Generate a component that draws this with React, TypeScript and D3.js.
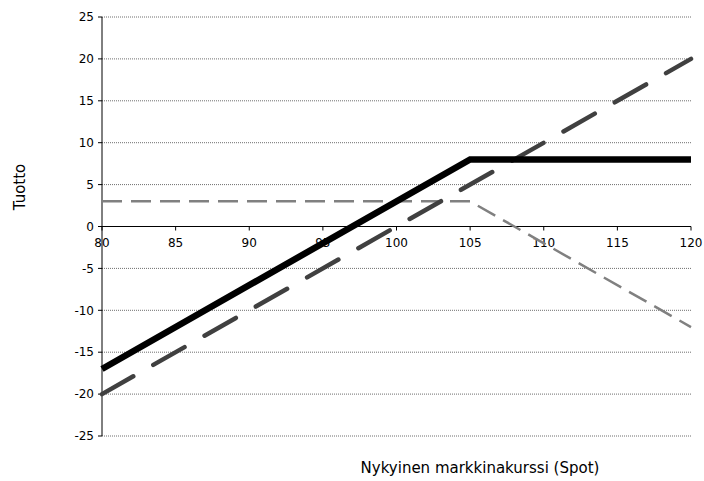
import React from "react";
import * as d3 from "d3";

const spotValues = [80, 105, 120];
const solidSeries = [-17, 8, 8];
const darkDashedSpot = [80, 120];
const darkDashedSeries = [-20, 20];
const lightDashedSeries = [3, 3, -12];
const xTicks = [80, 85, 90, 95, 100, 105, 110, 115, 120];
const yTicks = [25, 20, 15, 10, 5, 0, -5, -10, -15, -20, -25];
const xTitle = "Nykyinen markkinakurssi (Spot)";
const yTitle = "Tuotto";

export default function App() {
  const W = 704, H = 481;
  const x = d3.scaleLinear().domain([80, 120]).range([102, 691]);
  const y = d3.scaleLinear().domain([25, -25]).range([17, 436]);
  const line = d3.line<[number, number]>().x(d => x(d[0])).y(d => y(d[1]));
  const solid = line(spotValues.map((s, i) => [s, solidSeries[i]]));
  const dark = line(darkDashedSpot.map((s, i) => [s, darkDashedSeries[i]]));
  const light = line(spotValues.map((s, i) => [s, lightDashedSeries[i]]));
  const font = "Tahoma, 'DejaVu Sans', Verdana, sans-serif";
  return (
    <svg width={W} height={H} style={{ position: "absolute", left: 0, top: 0 }} fontFamily={font}>
      {yTicks.filter(t => t !== 0).map(t => (
        <line key={"g" + t} x1={x(80)} x2={x(120)} y1={y(t)} y2={y(t)} stroke="#6e6e6e" strokeWidth={1} strokeDasharray="1,1" />
      ))}
      <line x1={x(80)} x2={x(80)} y1={y(25)} y2={y(-25)} stroke="#000" strokeWidth={1} />
      <line x1={x(80)} x2={x(120)} y1={y(0)} y2={y(0)} stroke="#000" strokeWidth={1} />
      {yTicks.map(t => (
        <g key={"y" + t}>
          <line x1={x(80) - 4} x2={x(80)} y1={y(t)} y2={y(t)} stroke="#000" />
          <text x={x(80) - 8} y={y(t)} dy="0.35em" textAnchor="end" fontSize={12} fill="#000">{t}</text>
        </g>
      ))}
      {xTicks.map(t => (
        <g key={"x" + t}>
          <line x1={x(t)} x2={x(t)} y1={y(0)} y2={y(0) + 4} stroke="#000" />
          <text x={x(t)} y={y(0) + 16} dy="0.35em" textAnchor="middle" fontSize={12} fill="#000">{t}</text>
        </g>
      ))}
      <path d={light ?? ""} fill="none" stroke="#808080" strokeWidth={2.5} strokeDasharray="20,9" />
      <path d={dark ?? ""} fill="none" stroke="#404040" strokeWidth={4.5} strokeDasharray="36,23" strokeLinecap="round" />
      <path d={solid ?? ""} fill="none" stroke="#000" strokeWidth={6.5} />
      <text x={20} y={187} transform="rotate(-90 20 187)" textAnchor="middle" dy="0.35em" fontSize={15} fill="#000">{yTitle}</text>
      <text x={480} y={468} textAnchor="middle" dy="0.35em" fontSize={15} fill="#000">{xTitle}</text>
    </svg>
  );
}
